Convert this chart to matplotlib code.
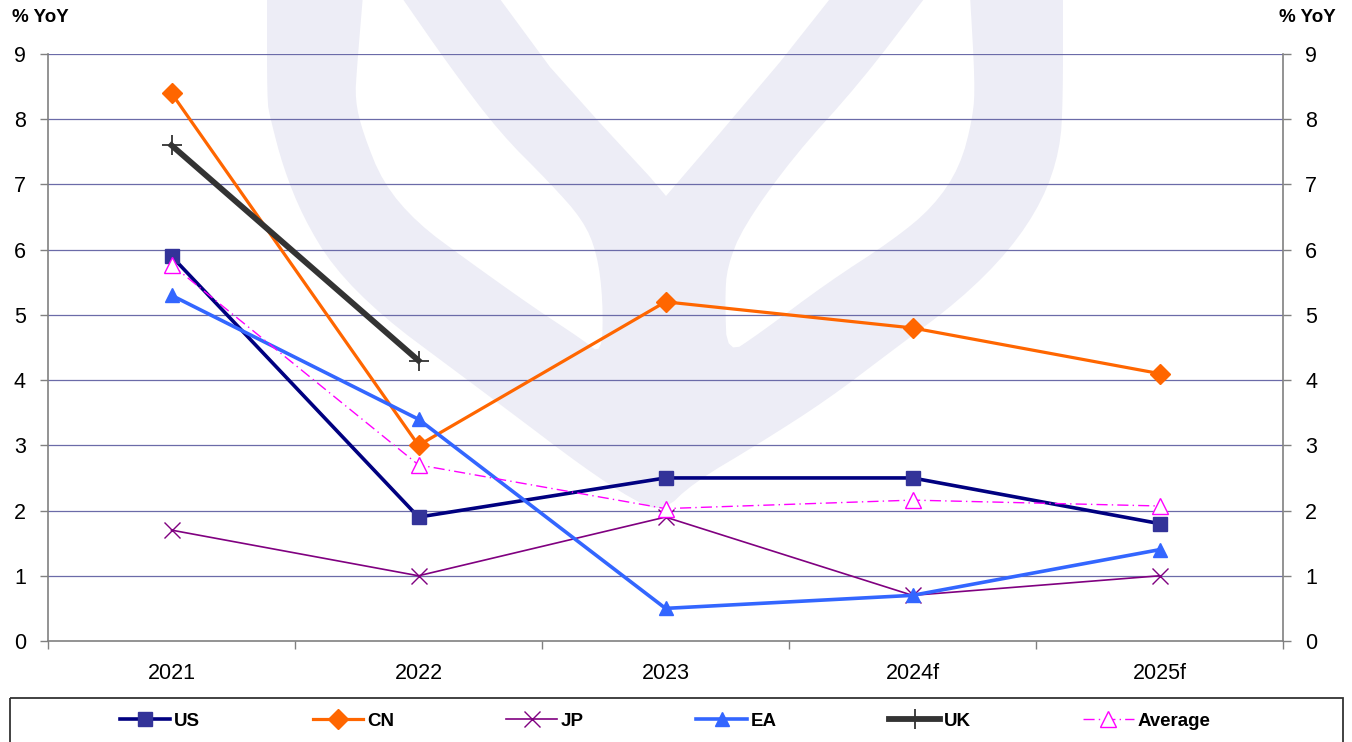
import matplotlib
matplotlib.use("Agg")
import matplotlib.pyplot as plt
import numpy as np
from matplotlib.patches import Polygon, Rectangle

plt.rcParams['font.family'] = ['Liberation Sans', 'DejaVu Sans']

# data
years = ["2021", "2022", "2023", "2024f", "2025f"]
us = [5.9, 1.9, 2.5, 2.5, 1.8]
cn = [8.4, 3.0, 5.2, 4.8, 4.1]
jp = [1.7, 1.0, 1.9, 0.7, 1.0]
ea = [5.3, 3.4, 0.5, 0.7, 1.4]
uk = [7.6, 4.3]
avg = [5.77, 2.70, 2.03, 2.16, 2.07]

W, H = 1352, 742
fig = plt.figure(figsize=(W / 100, H / 100), dpi=100)


def smooth(pts, n=2):
    # chaikin corner cutting, keeps the end points
    p = np.array(pts, float)
    for _ in range(n):
        q = [p[0]]
        for a, b in zip(p[:-1], p[1:]):
            q.append(0.75 * a + 0.25 * b)
            q.append(0.25 * a + 0.75 * b)
        q.append(p[-1])
        p = np.array(q)
    return p


# background watermark (pixel coords)
bg = fig.add_axes([0, 0, 1, 1], zorder=0)
bg.set_xlim(0, W)
bg.set_ylim(H, 0)
bg.axis("off")
wm = "#EDEDF6"
outer = [(267, -5), (267, 100), (270, 117), (283, 167), (303, 217), (333, 267),
         (383, 317), (450, 367), (517, 417), (583, 467), (633, 500), (663, 512),
         (693, 483), (760, 443), (827, 400), (893, 350), (960, 300), (1010, 250),
         (1043, 200), (1060, 150), (1063, 100), (1063, -5)]
hole_l = [(363, -5), (357, 67), (355, 100), (363, 133), (383, 183), (417, 223),
          (467, 260), (533, 307), (583, 340), (602, 355), (603, 300), (597, 253),
          (583, 220), (550, 183), (500, 133), (450, 67), (400, -5)]
hole_r = [(970, -5), (975, 83), (973, 117), (960, 167), (933, 207), (893, 240),
          (827, 283), (760, 333), (727, 355), (725, 300), (727, 267), (743, 227),
          (793, 157), (860, 83), (927, -5)]
notch = [(497, -5), (550, 67), (600, 123), (650, 177), (666, 196), (720, 133),
         (780, 62), (833, -5)]
bg.add_patch(Polygon(smooth(outer), closed=True, fc=wm, ec="none"))
for p in (hole_l, hole_r):
    bg.add_patch(Polygon(smooth(p), closed=True, fc="white", ec="none"))
bg.add_patch(Polygon(notch, closed=True, fc="white", ec="none"))

# legend frame
bg.add_patch(Rectangle((10, 698), 1333, 60, fc="none", ec="#333333", lw=1.3))

# axis titles
fig.text(12 / W, 1 - 18 / H, "% YoY", fontsize=13.5, fontweight="bold", va="center", ha="left")
fig.text(1336 / W, 1 - 18 / H, "% YoY", fontsize=13.5, fontweight="bold", va="center", ha="right")

ax = fig.add_axes([48 / W, 101 / H, 1235 / W, 587 / H], zorder=1)
ax.patch.set_alpha(0)
x = list(range(len(years)))

ax.plot(x, us, color="#000080", lw=2.6, marker="s", ms=10, mfc="#333399", mec="#333399", label="US")
ax.plot(x, cn, color="#FF6600", lw=2.3, marker="D", ms=10, mfc="#FF6600", mec="#FF6600", label="CN")
ax.plot(x, jp, color="#800080", lw=1.2, marker="x", ms=12, mew=1.0, label="JP")
ax.plot(x, ea, color="#3366FF", lw=2.6, marker="^", ms=10, mfc="#3366FF", mec="#3366FF", label="EA")
ax.plot(x[:len(uk)], uk, color="#333333", lw=4.2, marker="+", ms=15, mew=1.3, label="UK")
ax.plot(x, avg, color="#FF00FF", lw=1.0, ls=(0, (8, 3, 1, 3)), marker="^", ms=12,
        mfc="white", mec="#FF00FF", mew=1.0, label="Average")

ax.set_xlim(-0.5, 4.5)
ax.set_ylim(0, 9)
ax.set_yticks(range(0, 10))
for v in range(1, 10):
    ax.axhline(v, color="#6B6BA8", lw=0.9, zorder=0.5)

ax.set_xticks(x)
ax.set_xticklabels(years)
ax.set_xticks([i - 0.5 for i in range(len(years) + 1)], minor=True)
ax.tick_params(axis="x", which="major", length=0, pad=16, labelsize=15.5)
ax.tick_params(axis="x", which="minor", length=6, width=1, color="#808080", direction="out")
ax.tick_params(axis="y", which="major", length=6, width=1, color="#808080", direction="out",
               labelsize=15.5, pad=10, left=True, right=True, labelleft=True, labelright=True)

for s in ["left", "right", "bottom"]:
    ax.spines[s].set_color("#808080")
    ax.spines[s].set_linewidth(1.2)
ax.spines["top"].set_visible(False)

fig.legend(loc="center", bbox_to_anchor=(665 / W, 1 - 721 / H), ncol=6, frameon=False,
           prop={"weight": "bold", "size": 13.5}, handlelength=2.7, handletextpad=0.2,
           columnspacing=6.0, borderaxespad=0)

fig.savefig("out.png", dpi=100)
